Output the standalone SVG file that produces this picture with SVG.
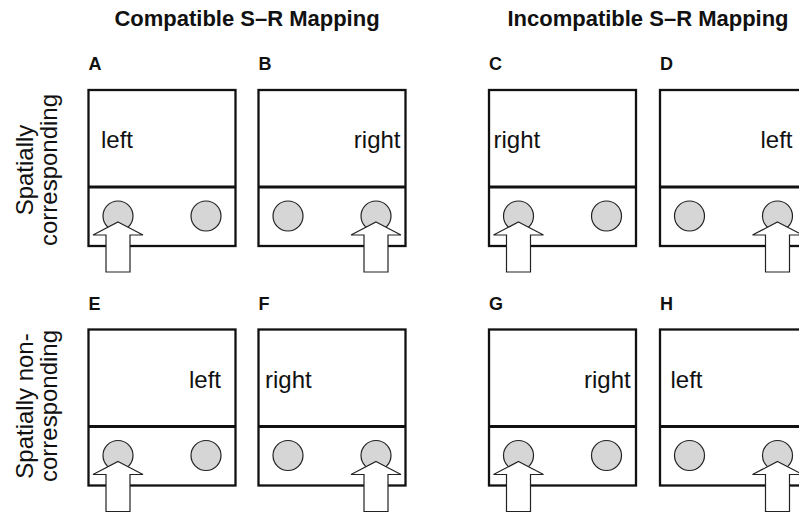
<svg xmlns="http://www.w3.org/2000/svg" width="799" height="512" viewBox="0 0 799 512">
  <style>
    .heading { font-family: "Liberation Sans", Arial, sans-serif; font-weight: bold; font-size: 22px; fill: #111; text-anchor: middle; }
    .label { font-family: "Liberation Sans", Arial, sans-serif; font-weight: bold; font-size: 18px; fill: #111; }
    .word { font-family: "Liberation Sans", Arial, sans-serif; font-size: 24px; fill: #111; }
    .side { font-family: "Liberation Sans", Arial, sans-serif; font-size: 24px; fill: #111; text-anchor: middle; }
    .frame { fill: #fff; stroke: #111; stroke-width: 2.3; }
    .divider { stroke: #111; stroke-width: 3; }
    .key { fill: #d6d6d6; stroke: #222; stroke-width: 1.2; }
    .press { fill: #fff; stroke: #222; stroke-width: 1.2; stroke-linejoin: miter; }
  </style>
  <defs>
    <!-- response box: screen area above, two keys below -->
    <g id="box">
      <rect class="frame" x="0" y="0" width="147" height="156"/>
      <line class="divider" x1="0" y1="97" x2="147" y2="97"/>
      <circle class="key" cx="29.5" cy="126" r="15"/>
      <circle class="key" cx="117.5" cy="126" r="15"/>
    </g>
    <!-- block arrow marking the pressed key, tip at origin -->
    <path id="arrow" class="press" d="M0,0 L25,13 L12,13 L12,50 L-12,50 L-12,13 L-25,13 Z"/>
  </defs>

  <!-- column headings -->
  <text class="heading" x="247" y="25.5">Compatible S–R Mapping</text>
  <text class="heading" x="648" y="25.5">Incompatible S–R Mapping</text>

  <!-- row headings -->
  <g id="row-corresponding">
    <text class="side" transform="translate(33,170) rotate(-90)">Spatially</text>
    <text class="side" transform="translate(57,170) rotate(-90)">corresponding</text>
  </g>
  <g id="row-noncorresponding">
    <text class="side" transform="translate(33,406) rotate(-90)">Spatially non-</text>
    <text class="side" transform="translate(57,406) rotate(-90)">corresponding</text>
  </g>

  <!-- top row -->
  <g id="panel-A" transform="translate(88.5,90)">
    <text class="label" x="0" y="-20">A</text>
    <use href="#box"/>
    <text class="word" x="12.5" y="58">left</text>
    <use href="#arrow" x="29.5" y="132"/>
  </g>
  <g id="panel-B" transform="translate(258.5,90)">
    <text class="label" x="0" y="-20">B</text>
    <use href="#box"/>
    <text class="word" x="142" y="58" text-anchor="end">right</text>
    <use href="#arrow" x="117.5" y="132"/>
  </g>
  <g id="panel-C" transform="translate(489,90)">
    <text class="label" x="0" y="-20">C</text>
    <use href="#box"/>
    <text class="word" x="4.5" y="58">right</text>
    <use href="#arrow" x="29.5" y="132"/>
  </g>
  <g id="panel-D" transform="translate(660,90)">
    <text class="label" x="0" y="-20">D</text>
    <use href="#box"/>
    <text class="word" x="132.5" y="58" text-anchor="end">left</text>
    <use href="#arrow" x="117.5" y="132"/>
  </g>

  <!-- bottom row -->
  <g id="panel-E" transform="translate(88.5,329.5)">
    <text class="label" x="0" y="-20">E</text>
    <use href="#box"/>
    <text class="word" x="132.5" y="58" text-anchor="end">left</text>
    <use href="#arrow" x="29.5" y="132"/>
  </g>
  <g id="panel-F" transform="translate(258.5,329.5)">
    <text class="label" x="0" y="-20">F</text>
    <use href="#box"/>
    <text class="word" x="6.5" y="58">right</text>
    <use href="#arrow" x="117.5" y="132"/>
  </g>
  <g id="panel-G" transform="translate(489,329.5)">
    <text class="label" x="0" y="-20">G</text>
    <use href="#box"/>
    <text class="word" x="141.7" y="58" text-anchor="end">right</text>
    <use href="#arrow" x="29.5" y="132"/>
  </g>
  <g id="panel-H" transform="translate(660,329.5)">
    <text class="label" x="0" y="-20">H</text>
    <use href="#box"/>
    <text class="word" x="10.5" y="58">left</text>
    <use href="#arrow" x="117.5" y="132"/>
  </g>
</svg>
